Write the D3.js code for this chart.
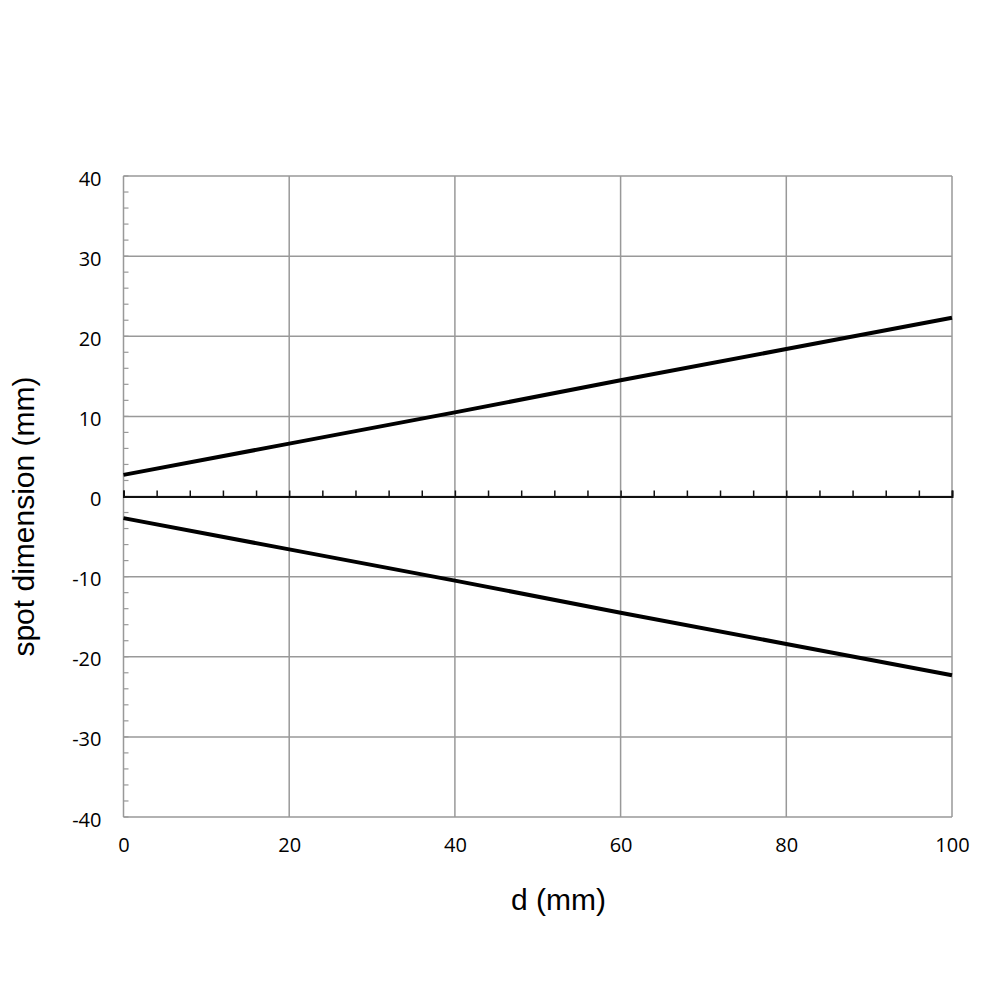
<!DOCTYPE html>
<html>
<head>
<meta charset="utf-8">
<script src="https://cdn.jsdelivr.net/npm/d3@7"></script>
<style>
  body { margin: 0; background: #fff; }
  .title { font-family: "Liberation Sans", Arial, sans-serif; font-size: 30px; fill: #000; }
</style>
</head>
<body>
<div id="chart"></div>
<script>
// distance (mm) and spot half-size (mm)
var dist = [0, 20, 40, 60, 80, 100];
var upper = [2.7, 6.6, 10.5, 14.5, 18.4, 22.3];
var lower = [-2.7, -6.6, -10.5, -14.5, -18.4, -22.3];
var xTicks = [0, 20, 40, 60, 80, 100];
var yTicks = [-40, -30, -20, -10, 0, 10, 20, 30, 40];

var margin = { top: 176, right: 48, bottom: 183, left: 123.5 },
    width = 1000 - margin.left - margin.right,
    height = 1000 - margin.top - margin.bottom;

var x = d3.scaleLinear().domain([0, 100]).range([0, width]);
var y = d3.scaleLinear().domain([-40, 40]).range([height, 0]);

var svg = d3.select("#chart").append("svg")
    .attr("width", 1000)
    .attr("height", 1000)
  .append("g")
    .attr("transform", "translate(" + margin.left + "," + margin.top + ")");

// horizontal gridlines
svg.append("g")
    .selectAll("line")
    .data(yTicks)
    .enter().append("line")
    .attr("x1", 0).attr("x2", width)
    .attr("y1", d => y(d)).attr("y2", d => y(d))
    .attr("stroke", "#999").attr("stroke-width", 1.5);

// vertical gridlines
svg.append("g")
    .selectAll("line")
    .data(xTicks)
    .enter().append("line")
    .attr("x1", d => x(d)).attr("x2", d => x(d))
    .attr("y1", 0).attr("y2", height)
    .attr("stroke", "#999").attr("stroke-width", 1.5);

// y minor ticks (inside, every 2)
svg.append("g")
    .selectAll("line")
    .data(d3.range(-40, 41, 2))
    .enter().append("line")
    .attr("x1", 0).attr("x2", 5)
    .attr("y1", d => y(d)).attr("y2", d => y(d))
    .attr("stroke", "#999").attr("stroke-width", 1.2);

const styleTicks = g => g.selectAll("text")
    .attr("font-family", "'Open Sans', sans-serif")
    .attr("font-size", 20)
    .attr("fill", "#000");

// y axis labels
svg.append("g")
    .call(d3.axisLeft(y).tickValues(yTicks).tickSize(0).tickPadding(22).tickFormat(d => String(d)))
    .call(g => g.select(".domain").remove())
    .call(styleTicks)
    .selectAll("text").attr("dy", "0.45em");

// x axis labels
svg.append("g")
    .attr("transform", "translate(0," + height + ")")
    .call(d3.axisBottom(x).tickValues(xTicks).tickSize(0).tickPadding(21))
    .call(g => g.select(".domain").remove())
    .call(styleTicks);

// zero axis with upward ticks
svg.append("g")
    .attr("transform", "translate(0," + y(0) + ")")
    .call(d3.axisTop(x).tickValues(d3.range(0, 101, 4)).tickSize(6).tickFormat(""))
    .call(g => g.selectAll("line").attr("stroke", "#111").attr("stroke-width", 1.5))
    .call(g => g.select(".domain").attr("stroke", "#111").attr("stroke-width", 2));

// spot lines
var line = d3.line()
    .x((d, i) => x(dist[i]))
    .y(d => y(d));

[upper, lower].forEach(function (s) {
    svg.append("path")
        .datum(s)
        .attr("fill", "none")
        .attr("stroke", "#000")
        .attr("stroke-width", 4)
        .attr("d", line);
});

// axis titles
svg.append("text")
    .attr("class", "title")
    .attr("x", x(52.5))
    .attr("y", height + 93)
    .attr("text-anchor", "middle")
    .text("d (mm)");

svg.append("text")
    .attr("class", "title")
    .attr("transform", "translate(" + (-90) + "," + (y(-2.5)) + ") rotate(-90)")
    .attr("text-anchor", "middle")
    .text("spot dimension (mm)");
</script>
</body>
</html>
